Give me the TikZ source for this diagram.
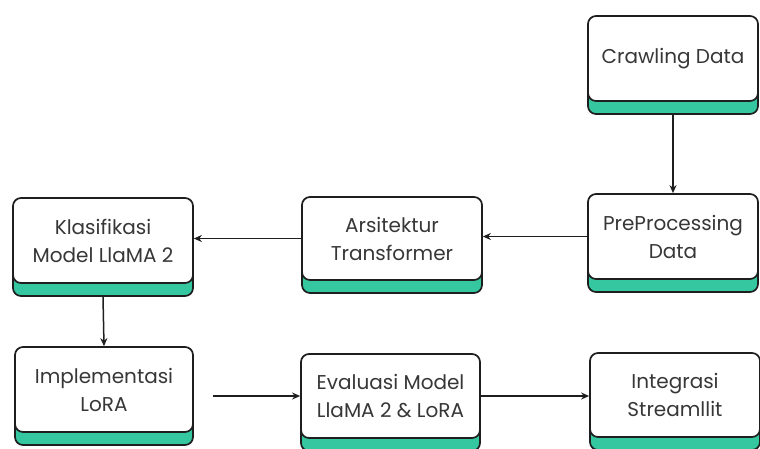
\documentclass[tikz,border=0pt]{standalone}
\usepackage{fontspec}
\setmainfont{Poppins}
\usetikzlibrary{arrows.meta}
\usetikzlibrary{shadows}

\definecolor{hijau}{RGB}{52,199,160}
\definecolor{garis}{RGB}{30,30,30}
\definecolor{teks}{RGB}{55,55,55}

\tikzset{
  tahap/.style={draw=garis, line width=1.7pt, fill=white, rounded corners=8pt,
    align=center, text=teks, font=\fontsize{20}{28}\selectfont,
    minimum width=176pt, minimum height=85pt, inner sep=0pt,
    general shadow={shadow yshift=-13pt, fill=hijau, draw=garis, line width=1.7pt}},
  panah/.style={draw=garis, line width=1.5pt, -{Stealth[length=8pt,width=7pt]}}
}

\begin{document}
\begin{tikzpicture}[x=1pt, y=-1pt]
  \useasboundingbox (0,0) rectangle (760,448);

  % baris atas
  \node[tahap, minimum width=170pt] (crawl) at (673,58.5) {Crawling Data};

  % baris tengah
  \node[tahap, minimum width=170pt] (prep) at (673,236.5) {PreProcessing\\Data};
  \node[tahap, minimum width=180pt, minimum height=83pt] (arsi) at (392,238.5) {Arsitektur\\Transformer};
  \node[tahap, minimum width=180pt] (klas) at (103,240.5) {Klasifikasi\\Model LlaMA 2};

  % baris bawah
  \node[tahap, minimum width=178pt] (impl) at (104,389.5) {Implementasi\\LoRA};
  \node[tahap, minimum width=179pt, minimum height=84pt] (eval) at (390.5,396) {Evaluasi Model\\LlaMA 2 \& LoRA};
  \node[tahap, minimum width=170pt, minimum height=84pt] (integ) at (675,395) {Integrasi\\Streamllit};

  % alur
  \draw[panah] ([yshift=-13pt]crawl.south) -- (prep.north);
  \draw[panah] (prep.west) -- (prep.west -| arsi.east);
  \draw[panah] (arsi.west) -- (arsi.west -| klas.east);
  \draw[panah] ([yshift=-13pt]klas.south) -- (impl.north);
  \draw[panah, shorten <=19pt] (impl.east |- eval.west) -- (eval.west);
  \draw[panah] (eval.east) -- (eval.east -| integ.west);
\end{tikzpicture}
\end{document}
